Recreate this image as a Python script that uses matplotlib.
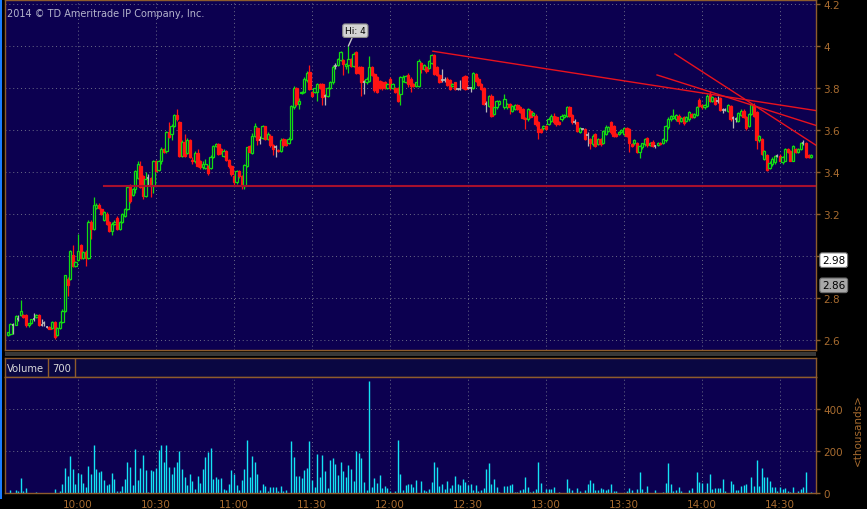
import pandas as pd
import matplotlib
matplotlib.use("Agg")
import matplotlib.pyplot as plt
from matplotlib.patches import Rectangle
from matplotlib.transforms import blended_transform_factory

# --- data: 1-minute bars -------------------------------------------------
first_bar = "2014-01-01 09:33"
last_bar = "2014-01-01 14:42"
no_trade_minute = "2014-01-01 12:43"   # minute without a bar

opens = [
    2.625, 2.63, 2.67, 2.673, 2.70, 2.72, 2.72, 2.72, 2.67, 2.68,
    2.70, 2.71, 2.72, 2.67, 2.68, 2.66, 2.663, 2.657, 2.684, 2.625,
    2.655, 2.684, 2.74, 2.89, 2.89, 3.005, 2.95, 2.98, 3.05, 2.99,
    3.02, 2.99, 3.164, 3.13, 3.23, 3.243, 3.224, 3.17, 3.20, 3.16,
    3.12, 3.15, 3.18, 3.13, 3.16, 3.19, 3.224, 3.335, 3.29, 3.32,
    3.37, 3.43, 3.38, 3.287, 3.37, 3.37, 3.332, 3.45, 3.41, 3.45,
    3.51, 3.498, 3.59, 3.58, 3.62, 3.67, 3.64, 3.478, 3.545, 3.49,
    3.55, 3.455, 3.45, 3.49, 3.45, 3.422, 3.42, 3.43, 3.42, 3.47,
    3.525, 3.533, 3.51, 3.478, 3.50, 3.457, 3.43, 3.38, 3.35, 3.406,
    3.38, 3.332, 3.43, 3.525, 3.49, 3.573, 3.608, 3.55, 3.56, 3.617,
    3.557, 3.573, 3.53, 3.517, 3.505, 3.50, 3.557, 3.55, 3.54, 3.557,
    3.708, 3.80, 3.724, 3.777, 3.78, 3.838, 3.875, 3.78, 3.78, 3.78,
    3.82, 3.82, 3.76, 3.763, 3.80, 3.827, 3.905, 3.91, 3.935, 3.935,
    3.906, 3.91, 3.94, 3.906, 3.97, 3.90, 3.90, 3.83, 3.827, 3.835,
    3.90, 3.866, 3.85, 3.835, 3.83, 3.83, 3.80, 3.843, 3.80, 3.80,
    3.80, 3.77, 3.835, 3.83, 3.86, 3.843, 3.82, 3.81, 3.81, 3.92,
    3.89, 3.90, 3.895, 3.92, 3.955, 3.90, 3.86, 3.84, 3.84, 3.845,
    3.84, 3.81, 3.827, 3.795, 3.795, 3.85, 3.855, 3.80, 3.80, 3.80,
    3.867, 3.845, 3.82, 3.80, 3.724, 3.716, 3.763, 3.676, 3.708, 3.724,
    3.708, 3.708, 3.724, 3.692, 3.70, 3.72, 3.708, 3.70, 3.655, 3.65,
    3.692, 3.67, 3.668, 3.64, 3.605, 3.608, 3.62, 3.628, 3.645, 3.668,
    3.66, 3.64, 3.652, 3.66, 3.668, 3.708, 3.67, 3.64, 3.637, 3.589,
    3.605, 3.605, 3.575, 3.557, 3.533, 3.58, 3.533, 3.557, 3.54, 3.58,
    3.597, 3.637, 3.62, 3.58, 3.58, 3.589, 3.58, 3.608, 3.605, 3.533,
    3.538, 3.54, 3.494, 3.517, 3.533, 3.56, 3.528, 3.545, 3.522, 3.53,
    3.54, 3.54, 3.55, 3.613, 3.652, 3.655, 3.65, 3.668, 3.645, 3.66,
    3.645, 3.65, 3.676, 3.66, 3.67, 3.743, 3.72, 3.708, 3.716, 3.768,
    3.74, 3.75, 3.737, 3.75, 3.697, 3.697, 3.692, 3.716, 3.655, 3.652,
    3.645, 3.67, 3.692, 3.66, 3.62, 3.676, 3.716, 3.684, 3.55, 3.557,
    3.462, 3.48, 3.42, 3.438, 3.446, 3.478, 3.478, 3.446, 3.454, 3.51,
    3.50, 3.454, 3.51, 3.494, 3.51, 3.538, 3.54, 3.48, 3.47,
]
highs = [
    2.64, 2.68, 2.68, 2.72, 2.72, 2.79, 2.725, 2.725, 2.68, 2.70,
    2.73, 2.725, 2.725, 2.70, 2.69, 2.665, 2.665, 2.69, 2.69, 2.66,
    2.69, 2.745, 2.91, 2.90, 3.03, 3.05, 2.975, 3.105, 3.055, 3.025,
    3.03, 3.17, 3.17, 3.28, 3.25, 3.25, 3.23, 3.215, 3.21, 3.165,
    3.16, 3.17, 3.19, 3.165, 3.205, 3.23, 3.34, 3.345, 3.325, 3.41,
    3.45, 3.45, 3.385, 3.40, 3.39, 3.375, 3.455, 3.455, 3.455, 3.52,
    3.515, 3.595, 3.64, 3.63, 3.675, 3.70, 3.645, 3.55, 3.58, 3.56,
    3.555, 3.47, 3.50, 3.51, 3.455, 3.45, 3.46, 3.435, 3.48, 3.53,
    3.54, 3.54, 3.515, 3.51, 3.505, 3.46, 3.435, 3.385, 3.41, 3.41,
    3.385, 3.44, 3.52, 3.53, 3.585, 3.635, 3.615, 3.57, 3.625, 3.62,
    3.59, 3.58, 3.535, 3.53, 3.51, 3.56, 3.56, 3.555, 3.565, 3.72,
    3.81, 3.805, 3.75, 3.785, 3.85, 3.88, 3.91, 3.785, 3.80, 3.825,
    3.825, 3.825, 3.77, 3.805, 3.835, 3.91, 3.92, 3.945, 3.975, 3.94,
    3.92, 4.0, 3.945, 3.97, 3.975, 3.905, 3.905, 3.84, 3.85, 3.95,
    3.905, 3.87, 3.855, 3.84, 3.835, 3.835, 3.825, 3.85, 3.825, 3.805,
    3.805, 3.855, 3.86, 3.86, 3.87, 3.85, 3.825, 3.83, 3.94, 3.925,
    3.915, 3.905, 3.935, 3.96, 3.96, 3.905, 3.865, 3.89, 3.85, 3.85,
    3.845, 3.825, 3.83, 3.80, 3.84, 3.855, 3.86, 3.805, 3.805, 3.875,
    3.87, 3.85, 3.825, 3.805, 3.74, 3.765, 3.77, 3.71, 3.745, 3.745,
    3.77, 3.73, 3.73, 3.72, 3.725, 3.725, 3.715, 3.705, 3.66, 3.705,
    3.70, 3.685, 3.675, 3.645, 3.61, 3.625, 3.625, 3.66, 3.675, 3.68,
    3.665, 3.645, 3.675, 3.675, 3.715, 3.715, 3.675, 3.65, 3.64, 3.615,
    3.61, 3.61, 3.59, 3.56, 3.58, 3.585, 3.56, 3.56, 3.60, 3.625,
    3.62, 3.645, 3.625, 3.585, 3.595, 3.605, 3.615, 3.615, 3.61, 3.54,
    3.555, 3.545, 3.53, 3.54, 3.56, 3.565, 3.545, 3.55, 3.53, 3.545,
    3.545, 3.56, 3.625, 3.66, 3.67, 3.70, 3.675, 3.675, 3.66, 3.665,
    3.665, 3.69, 3.68, 3.68, 3.715, 3.75, 3.725, 3.725, 3.77, 3.787,
    3.76, 3.755, 3.76, 3.755, 3.705, 3.705, 3.725, 3.72, 3.665, 3.66,
    3.685, 3.70, 3.70, 3.665, 3.68, 3.73, 3.73, 3.69, 3.575, 3.56,
    3.505, 3.485, 3.45, 3.47, 3.48, 3.485, 3.485, 3.475, 3.515, 3.515,
    3.505, 3.53, 3.515, 3.515, 3.545, 3.554, 3.545, 3.485, 3.485,
]
lows = [
    2.62, 2.625, 2.63, 2.67, 2.69, 2.715, 2.705, 2.66, 2.66, 2.675,
    2.69, 2.705, 2.665, 2.665, 2.665, 2.655, 2.65, 2.65, 2.605, 2.62,
    2.65, 2.68, 2.735, 2.81, 2.885, 2.945, 2.945, 2.975, 2.985, 2.985,
    2.95, 2.985, 3.08, 3.125, 3.225, 3.225, 3.195, 3.165, 3.145, 3.115,
    3.10, 3.145, 3.125, 3.125, 3.155, 3.185, 3.22, 3.25, 3.285, 3.30,
    3.365, 3.325, 3.27, 3.28, 3.34, 3.28, 3.30, 3.40, 3.405, 3.44,
    3.49, 3.49, 3.56, 3.55, 3.615, 3.645, 3.47, 3.47, 3.47, 3.485,
    3.465, 3.44, 3.445, 3.425, 3.415, 3.415, 3.415, 3.385, 3.415, 3.465,
    3.52, 3.48, 3.485, 3.47, 3.45, 3.42, 3.38, 3.34, 3.345, 3.37,
    3.32, 3.32, 3.425, 3.49, 3.485, 3.565, 3.53, 3.535, 3.555, 3.55,
    3.55, 3.52, 3.48, 3.47, 3.495, 3.495, 3.52, 3.525, 3.535, 3.55,
    3.70, 3.715, 3.70, 3.77, 3.775, 3.83, 3.79, 3.755, 3.775, 3.74,
    3.795, 3.72, 3.72, 3.755, 3.795, 3.82, 3.89, 3.905, 3.93, 3.86,
    3.89, 3.87, 3.90, 3.90, 3.865, 3.865, 3.76, 3.77, 3.82, 3.83,
    3.855, 3.78, 3.775, 3.795, 3.79, 3.795, 3.795, 3.79, 3.795, 3.775,
    3.735, 3.72, 3.83, 3.825, 3.805, 3.78, 3.805, 3.805, 3.805, 3.87,
    3.885, 3.87, 3.89, 3.915, 3.86, 3.855, 3.825, 3.83, 3.83, 3.81,
    3.79, 3.805, 3.79, 3.79, 3.79, 3.795, 3.79, 3.795, 3.78, 3.795,
    3.83, 3.81, 3.79, 3.72, 3.685, 3.71, 3.66, 3.67, 3.70, 3.72,
    3.70, 3.70, 3.675, 3.685, 3.695, 3.695, 3.68, 3.65, 3.605, 3.645,
    3.655, 3.665, 3.62, 3.557, 3.585, 3.60, 3.60, 3.625, 3.64, 3.63,
    3.62, 3.625, 3.645, 3.655, 3.66, 3.66, 3.63, 3.63, 3.59, 3.585,
    3.60, 3.55, 3.525, 3.51, 3.525, 3.52, 3.53, 3.525, 3.535, 3.575,
    3.59, 3.58, 3.565, 3.565, 3.575, 3.585, 3.575, 3.565, 3.497, 3.52,
    3.53, 3.49, 3.467, 3.51, 3.525, 3.52, 3.525, 3.52, 3.515, 3.525,
    3.53, 3.535, 3.545, 3.605, 3.645, 3.65, 3.645, 3.63, 3.64, 3.625,
    3.64, 3.645, 3.655, 3.655, 3.665, 3.71, 3.70, 3.70, 3.71, 3.735,
    3.735, 3.72, 3.73, 3.69, 3.68, 3.69, 3.685, 3.645, 3.61, 3.64,
    3.64, 3.665, 3.655, 3.60, 3.615, 3.67, 3.66, 3.51, 3.545, 3.48,
    3.455, 3.405, 3.415, 3.43, 3.44, 3.47, 3.45, 3.44, 3.45, 3.49,
    3.45, 3.45, 3.49, 3.49, 3.505, 3.53, 3.465, 3.465, 3.465,
]
closes = [
    2.637, 2.676, 2.67, 2.713, 2.70, 2.74, 2.71, 2.67, 2.68, 2.70,
    2.70, 2.72, 2.67, 2.67, 2.68, 2.66, 2.652, 2.684, 2.613, 2.655,
    2.684, 2.74, 2.907, 2.86, 3.025, 2.95, 2.97, 3.025, 2.99, 3.02,
    2.99, 3.164, 3.13, 3.243, 3.243, 3.23, 3.20, 3.21, 3.15, 3.12,
    3.153, 3.16, 3.13, 3.16, 3.20, 3.224, 3.327, 3.26, 3.32, 3.406,
    3.438, 3.33, 3.287, 3.366, 3.37, 3.332, 3.45, 3.406, 3.45, 3.51,
    3.497, 3.59, 3.568, 3.62, 3.67, 3.65, 3.478, 3.545, 3.478, 3.55,
    3.47, 3.45, 3.49, 3.43, 3.422, 3.438, 3.44, 3.395, 3.47, 3.525,
    3.533, 3.486, 3.49, 3.50, 3.457, 3.43, 3.39, 3.35, 3.406, 3.38,
    3.332, 3.433, 3.517, 3.494, 3.573, 3.62, 3.554, 3.55, 3.617, 3.557,
    3.58, 3.528, 3.51, 3.517, 3.498, 3.55, 3.528, 3.53, 3.557, 3.716,
    3.80, 3.724, 3.74, 3.78, 3.843, 3.87, 3.795, 3.76, 3.798, 3.82,
    3.80, 3.755, 3.76, 3.80, 3.827, 3.90, 3.905, 3.938, 3.97, 3.914,
    3.914, 3.94, 3.906, 3.96, 3.87, 3.87, 3.83, 3.83, 3.843, 3.90,
    3.86, 3.79, 3.78, 3.80, 3.80, 3.80, 3.82, 3.80, 3.82, 3.78,
    3.74, 3.85, 3.85, 3.855, 3.82, 3.81, 3.81, 3.827, 3.93, 3.89,
    3.91, 3.88, 3.93, 3.955, 3.867, 3.86, 3.83, 3.84, 3.84, 3.814,
    3.795, 3.82, 3.795, 3.795, 3.795, 3.80, 3.795, 3.80, 3.80, 3.87,
    3.835, 3.814, 3.795, 3.724, 3.724, 3.76, 3.668, 3.708, 3.74, 3.74,
    3.748, 3.724, 3.708, 3.716, 3.72, 3.70, 3.684, 3.655, 3.65, 3.70,
    3.66, 3.68, 3.628, 3.59, 3.589, 3.62, 3.605, 3.652, 3.668, 3.637,
    3.628, 3.628, 3.668, 3.67, 3.708, 3.665, 3.637, 3.64, 3.597, 3.608,
    3.605, 3.557, 3.575, 3.54, 3.573, 3.525, 3.557, 3.533, 3.597, 3.613,
    3.613, 3.589, 3.573, 3.573, 3.592, 3.60, 3.608, 3.573, 3.54, 3.525,
    3.55, 3.497, 3.525, 3.538, 3.557, 3.528, 3.54, 3.525, 3.522, 3.54,
    3.533, 3.557, 3.62, 3.652, 3.668, 3.668, 3.67, 3.645, 3.655, 3.633,
    3.66, 3.684, 3.66, 3.676, 3.708, 3.716, 3.708, 3.72, 3.763, 3.74,
    3.755, 3.724, 3.737, 3.697, 3.697, 3.697, 3.72, 3.65, 3.655, 3.652,
    3.68, 3.692, 3.66, 3.608, 3.676, 3.724, 3.668, 3.55, 3.57, 3.486,
    3.50, 3.411, 3.443, 3.462, 3.475, 3.478, 3.454, 3.47, 3.51, 3.494,
    3.454, 3.522, 3.494, 3.51, 3.54, 3.538, 3.47, 3.47, 3.48,
]
# volume in thousands of shares
volume = [
    0, 14, 0, 14, 10, 71, 10, 24, 0, 0, 0, 5, 0, 0, 0, 0, 0, 0, 19, 0,
    10, 43, 119, 81, 176, 114, 43, 95, 90, 48, 29, 129, 90, 229, 114, 100, 105, 62, 38, 43,
    95, 67, 10, 10, 33, 67, 148, 124, 38, 210, 62, 119, 181, 110, 5, 110, 105, 119, 205, 229,
    148, 229, 124, 90, 124, 148, 200, 114, 76, 38, 90, 57, 19, 81, 48, 114, 171, 195, 214, 67,
    76, 67, 71, 19, 14, 43, 110, 90, 38, 14, 62, 114, 252, 76, 176, 148, 90, 14, 43, 33,
    10, 29, 29, 29, 10, 33, 10, 14, 0, 248, 171, 81, 81, 71, 110, 119, 248, 62, 29, 186,
    76, 181, 105, 24, 157, 167, 138, 86, 148, 105, 76, 133, 114, 57, 200, 190, 167, 52, 14, 533,
    29, 71, 48, 86, 24, 33, 24, 10, 0, 10, 252, 90, 14, 38, 43, 43, 29, 62, 0, 57,
    14, 10, 19, 52, 148, 124, 33, 43, 19, 57, 24, 38, 81, 43, 38, 67, 52, 38, 43, 14,
    38, 10, 14, 24, 114, 143, 43, 67, 29, 5,
    33, 33, 38, 43, 5, 5, 14, 19, 76,
    29, 5, 10, 19, 148, 48, 5, 19, 19, 19, 29, 0, 5, 0, 0, 67, 24, 14, 0, 24,
    10, 0, 14, 43, 62, 48, 14, 14, 24, 19, 14, 19, 43, 10, 10, 0, 0, 0, 10, 24,
    14, 0, 19, 100, 19, 5, 33, 0, 0, 14, 0, 0, 5, 48, 143, 43, 10, 14, 29, 10,
    0, 0, 14, 24, 0, 100, 52, 48, 5, 48, 90, 19, 24, 24, 24, 67, 10, 0, 57, 43,
    14, 14, 33, 38, 43, 0, 76, 33, 157, 33, 119, 76, 76, 57, 29, 29, 10, 29, 19, 24,
    10, 5, 29, 0, 10, 19, 29, 100, 0, 5,
]

price_ticks = [2.6, 2.8, 3.0, 3.2, 3.4, 3.6, 3.8, 4.0, 4.2]
volume_ticks = [0, 200, 400]
time_ticks = ["10:00", "10:30", "11:00", "11:30", "12:00", "12:30",
              "13:00", "13:30", "14:00", "14:30"]

support_level = ("10:10", 3.333)
trend_lines = [
    (("12:16:30", 3.975), ("14:44", 3.692)),
    (("13:42:42", 3.862), ("14:44", 3.621)),
    (("13:49:36", 3.962), ("14:44", 3.526)),
]
price_bubbles = [2.98, 2.86]


def to_min(s):
    parts = [int(p) for p in s.split(":")]
    return parts[0] * 60 + parts[1] + (parts[2] / 60 if len(parts) > 2 else 0)


times = pd.date_range(first_bar, last_bar, freq="min")
times = times[times != pd.Timestamp(no_trade_minute)]
x = list(times.hour * 60 + times.minute)

# --- style ---------------------------------------------------------------
W, H = 867, 510
BG = "#0c0050"
ORANGE = "#8e5c2c"
LABEL = "#a86c30"
GRID = "#6c6c88"
GREEN = "#12dc12"
RED = "#ff1414"
GRAY = "#b8b8b8"

plt.rcParams["font.family"] = ["DejaVu Sans"]

fig = plt.figure(figsize=(W / 100, H / 100), dpi=100, facecolor="black")


def px_box(left, top, right, bottom):
    return [left / W, 1 - bottom / H, (right - left) / W, (bottom - top) / H]


ax = fig.add_axes(px_box(5, 1, 816, 351))
hx = fig.add_axes(px_box(5, 359, 816, 378))
vx = fig.add_axes(px_box(5, 378, 816, 494))

xlim = (571.92, 883.85)
for a in (ax, hx, vx):
    a.set_facecolor(BG)
    for s in a.spines.values():
        s.set_color(ORANGE)
        s.set_linewidth(1)

# --- price panel ---------------------------------------------------------
ax.set_xlim(*xlim)
ax.set_ylim(2.552, 4.219)
ax.set_axisbelow(True)
ax.yaxis.tick_right()
ax.set_yticks(price_ticks)
# the 3.0 label sits under the 2.98 bubble, so it is left blank
ax.set_yticklabels(["" if abs(v - 3.0) < 1e-9 else f"{v:g}" for v in price_ticks])
ax.tick_params(axis="y", colors=ORANGE, labelcolor=LABEL, length=3, width=1,
               pad=2, labelsize=7.5)
ax.set_xticks([to_min(t) for t in time_ticks])
ax.tick_params(axis="x", length=0, labelbottom=False)
ax.grid(True, color=GRID, linestyle=(0, (1, 3)), linewidth=0.7)

bw = 0.85
for xi, o, h, l, c in zip(x, opens, highs, lows, closes):
    if c > o:
        col = GREEN
    elif c < o:
        col = RED
    else:
        col = GRAY
    ax.vlines(xi, l, h, color=col, lw=0.9, zorder=2)
    if c == o:
        ax.hlines(o, xi - bw / 2, xi + bw / 2, color=col, lw=1.2, zorder=3)
    else:
        lo, hi = min(o, c), max(o, c)
        ax.add_patch(Rectangle((xi - bw / 2, lo), bw, max(hi - lo, 0.003),
                               facecolor=BG if c > o else col, edgecolor=col,
                               lw=0.9, zorder=3))

# support line and trend lines
t0 = to_min(support_level[0])
ax.axhline(support_level[1], xmin=(t0 - xlim[0]) / (xlim[1] - xlim[0]), xmax=1,
           color="#a8102e", lw=1.5, zorder=4)
for (ta, pa), (tb, pb) in trend_lines:
    ax.plot([to_min(ta), to_min(tb)], [pa, pb], color="#e8121e", lw=1, zorder=4)

# high-of-day bubble
hi_val = max(highs)
hi_idx = highs.index(hi_val)
ax.annotate(f"Hi: {hi_val:g}", xy=(x[hi_idx], hi_val), xytext=(5, 11),
            textcoords="offset points", ha="center", va="center", fontsize=6.5,
            color="black",
            bbox=dict(boxstyle="round,pad=0.25", fc="#d4d4d4", ec="#8a8a8a", lw=0.8),
            arrowprops=dict(arrowstyle="-", color="#c8c8c8", lw=1,
                            shrinkA=0, shrinkB=0), zorder=6)

# price bubbles on the right axis
btr = blended_transform_factory(ax.transAxes, ax.transData)
for val, fc in zip(price_bubbles, ["white", "#a8a8a8"]):
    ax.text(1.0075, val, f"{val:.2f}", transform=btr, ha="left", va="center",
            fontsize=7.5, color="black", clip_on=False, zorder=10,
            bbox=dict(boxstyle="round,pad=0.22", fc=fc, ec="#707070", lw=0.8))

fig.text(7 / W, 1 - 14 / H, "2014 \u00a9 TD Ameritrade IP Company, Inc.",
         color="#b4b4cc", fontsize=7, va="center", ha="left")

# --- volume header -------------------------------------------------------
hx.set_facecolor("#0a0742")
hx.set_xlim(0, 811)
hx.set_ylim(0, 1)
hx.set_xticks([])
hx.set_yticks([])
hx.axvline(43, color=ORANGE, lw=1)
hx.axvline(70, color=ORANGE, lw=1)
hx.text(2, 0.48, "Volume", color="#d8d8d8", fontsize=7.2, va="center", ha="left")
hx.text(47, 0.48, "700", color="#d8d8d8", fontsize=7.2, va="center", ha="left")

# --- volume panel --------------------------------------------------------
vx.set_xlim(*xlim)
vx.set_ylim(0, 552)
vx.set_axisbelow(True)
vx.vlines(x, 0, volume, color="#14e4f4", lw=1.0, zorder=2)
vx.yaxis.tick_right()
vx.set_yticks(volume_ticks)
vx.set_yticklabels([str(v) for v in volume_ticks])
vx.tick_params(axis="y", colors=ORANGE, labelcolor=LABEL, length=3, width=1,
               pad=2, labelsize=7.5)
vx.set_xticks([to_min(t) for t in time_ticks])
vx.set_xticklabels(time_ticks)
vx.tick_params(axis="x", length=0, pad=4, labelcolor=LABEL, labelsize=7.5)
vx.grid(True, color=GRID, linestyle=(0, (1, 3)), linewidth=0.7)

fig.text(858 / W, 1 - 430 / H, "<thousands>", rotation=90, color=LABEL,
         fontsize=7.5, ha="center", va="center")

# separator strip and left stripe
fig.patches.append(Rectangle((5 / W, 1 - 357 / H), 811 / W, 4 / H,
                             transform=fig.transFigure, fc="#383838", ec="none"))
fig.patches.append(Rectangle((0, 1 - 500 / H), 2 / W, 500 / H,
                             transform=fig.transFigure, fc="#1a7cff", ec="none"))

fig.savefig("out.png", dpi=100, facecolor="black")
